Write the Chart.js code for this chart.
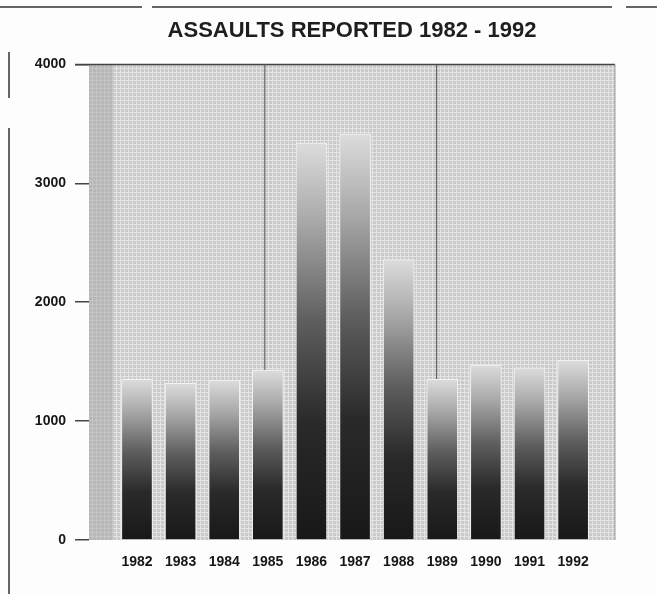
<!DOCTYPE html>
<html>
<head>
<meta charset="utf-8">
<script src="https://cdn.jsdelivr.net/npm/chart.js@4/dist/chart.umd.min.js"></script>
<style>
  html, body { margin: 0; padding: 0; background: #fdfdfd; }
  #wrap { width: 657px; height: 594px; position: relative; }
</style>
</head>
<body>
<div id="wrap"><canvas id="chart" width="657" height="594"></canvas></div>
<script>
const years = [1982, 1983, 1984, 1985, 1986, 1987, 1988, 1989, 1990, 1991, 1992];
const assaults = [1352, 1318, 1344, 1429, 3339, 3415, 2358, 1352, 1471, 1448, 1511];
const yTicks = [0, 1000, 2000, 3000, 4000];
const title = 'ASSAULTS REPORTED 1982 - 1992';

const font = '"Liberation Sans", Arial, Helvetica, sans-serif';

// light mesh used for the plot background
const tile = document.createElement('canvas');
tile.width = 4;
tile.height = 4;
const tctx = tile.getContext('2d');
tctx.fillStyle = '#cacaca';
tctx.fillRect(0, 0, 4, 4);
tctx.fillStyle = '#e4e4e4';
tctx.fillRect(0, 0, 4, 1);
tctx.fillRect(0, 0, 1, 4);

const backdrop = {
    id: 'backdrop',
    beforeDraw(chart) {
        const c = chart.ctx;
        const a = chart.chartArea;
        c.save();
        c.fillStyle = '#fdfdfd';
        c.fillRect(0, 0, chart.width, chart.height);

        // scanned page edges
        c.strokeStyle = '#333';
        c.lineWidth = 1.5;
        c.beginPath();
        c.moveTo(0, 7); c.lineTo(142, 7);
        c.moveTo(152, 7); c.lineTo(612, 7);
        c.moveTo(626, 7); c.lineTo(657, 7);
        c.moveTo(9, 52); c.lineTo(9, 98);
        c.moveTo(9, 128); c.lineTo(9, 594);
        c.stroke();

        c.fillStyle = c.createPattern(tile, 'repeat');
        c.fillRect(a.left, a.top, a.width, a.height);
        c.fillStyle = 'rgba(160,160,160,0.45)';
        c.fillRect(a.left, a.top, 24, a.height);

        c.strokeStyle = '#444';
        c.lineWidth = 1.5;
        c.beginPath();
        c.moveTo(a.left - 14, a.top); c.lineTo(a.right, a.top);
        c.stroke();
        c.strokeStyle = '#999';
        c.lineWidth = 1;
        c.beginPath();
        c.moveTo(a.right, a.top); c.lineTo(a.right, a.bottom);
        c.stroke();

        // thin pin lines down to two bars
        const x = chart.scales.x, y = chart.scales.y;
        c.strokeStyle = '#555';
        c.beginPath();
        [[1984.93, 3], [1988.87, 7]].forEach(([xv, i]) => {
            const px = x.getPixelForValue(xv);
            c.moveTo(px, a.top);
            c.lineTo(px, y.getPixelForValue(assaults[i]));
        });
        c.stroke();
        c.restore();
    }
};

function barFill(ctx) {
    const chart = ctx.chart;
    const a = chart.chartArea;
    if (!a || !ctx.raw) return '#555';
    const top = chart.scales.y.getPixelForValue(ctx.raw.y);
    const g = chart.ctx.createLinearGradient(0, a.bottom, 0, top);
    g.addColorStop(0, '#181818');
    g.addColorStop(0.3, '#2a2a2a');
    g.addColorStop(0.55, '#5e5e5e');
    g.addColorStop(0.8, '#a8a8a8');
    g.addColorStop(1, '#dcdcdc');
    return g;
}

const ctx = document.getElementById('chart').getContext('2d');

const chart = new Chart(ctx, {
    type: 'bar',
    data: {
        datasets: [{
            data: years.map((yr, i) => ({ x: yr, y: assaults[i] })),
            backgroundColor: barFill,
            borderColor: '#f2f2f2',
            borderWidth: 1,
            barThickness: 31
        }]
    },
    options: {
        responsive: false,
        animation: false,
        layout: { padding: { top: 0, right: 42, bottom: 0, left: 0 } },
        plugins: {
            legend: { display: false },
            tooltip: { enabled: false },
            title: {
                display: true,
                fullSize: false,
                text: title,
                color: '#1e1e1e',
                font: { family: font, size: 22, weight: 'bold' },
                padding: { top: 18, bottom: 20 }
            }
        },
        scales: {
            x: {
                type: 'linear',
                offset: false,
                min: 1980.9,
                max: 1992.96,
                afterBuildTicks: s => { s.ticks = years.map(v => ({ value: v })); },
                afterFit: s => { s.height = 54; },
                grid: { display: false },
                border: { display: false },
                ticks: {
                    color: '#161616',
                    padding: 6,
                    font: { family: font, size: 14, weight: 'bold' },
                    callback: v => String(v)
                }
            },
            y: {
                min: 0,
                max: 4000,
                afterBuildTicks: s => { s.ticks = yTicks.map(v => ({ value: v })); },
                afterFit: s => { s.width = 89; },
                grid: {
                    drawOnChartArea: false,
                    drawTicks: true,
                    tickLength: 14,
                    color: '#444',
                    lineWidth: 1.5
                },
                border: { display: false },
                ticks: {
                    color: '#161616',
                    padding: 9,
                    font: { family: font, size: 14, weight: 'bold' },
                    callback: v => String(v)
                }
            }
        }
    },
    plugins: [backdrop]
});
</script>
</body>
</html>
